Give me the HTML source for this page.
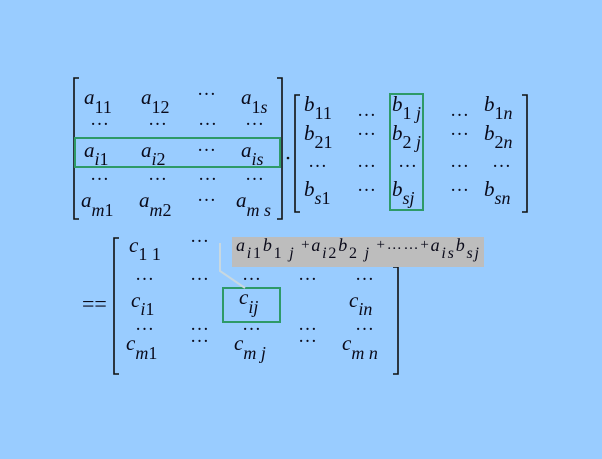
<!DOCTYPE html>
<html><head><meta charset="utf-8"><style>
html,body{margin:0;padding:0;width:602px;height:459px;overflow:hidden;background:#99ccff}
svg{display:block}
text{font-family:"Liberation Serif",serif;fill:#0a0a1a}
.v{font-style:italic;font-size:21px}
.s{font-size:18px}
.n{font-style:normal;font-size:19px}
</style></head><body>
<svg width="602" height="459" viewBox="0 0 602 459">
<rect width="602" height="459" fill="#99ccff"/>
<g fill="none" stroke="#111" stroke-width="1.6">
<path d="M79,78 H74 V219 H79"/>
<path d="M277,78 H282 V219 H277"/>
<path d="M300,95 H295 V212 H300"/>
<path d="M522,95 H527 V212 H522"/>
<path d="M119,238 H114 V374 H119"/>
<path d="M393,267 H398 V374 H393"/>
</g>
<g fill="none" stroke="#2e9a68" stroke-width="2">
<rect x="75" y="138" width="205" height="29"/>
<rect x="390" y="94" width="33" height="116"/>
<rect x="223" y="288" width="57" height="34"/>
</g>
<polyline points="220,243 220,271 245,288" fill="none" stroke="#c8d8e0" stroke-width="2"/>
<rect x="232" y="237" width="252" height="30" fill="#bdbdbd"/>
<circle cx="288" cy="158" r="1.3" fill="#111"/>
<g class="v">
<!-- A -->
<text x="84" y="104">a<tspan class="s" dy="9" style="font-style:normal">11</tspan></text>
<text x="141" y="104">a<tspan class="s" dy="9" style="font-style:normal">12</tspan></text>
<text class="n" x="197" y="95">…</text>
<text x="241" y="104">a<tspan class="s" dy="9" style="font-style:normal">1</tspan><tspan class="s">s</tspan></text>
<text class="n" x="90" y="125">…</text><text class="n" x="148" y="125">…</text><text class="n" x="198" y="125">…</text><text class="n" x="245" y="125">…</text>
<text x="84" y="157">a<tspan class="s" dy="8">i</tspan><tspan class="s" style="font-style:normal">1</tspan></text>
<text x="141" y="157">a<tspan class="s" dy="8">i</tspan><tspan class="s" style="font-style:normal">2</tspan></text>
<text class="n" x="197" y="151">…</text>
<text x="241" y="157">a<tspan class="s" dy="8">is</tspan></text>
<text class="n" x="90" y="180">…</text><text class="n" x="148" y="180">…</text><text class="n" x="198" y="180">…</text><text class="n" x="245" y="180">…</text>
<text x="81" y="207">a<tspan class="s" dy="9">m</tspan><tspan class="s" style="font-style:normal">1</tspan></text>
<text x="139" y="207">a<tspan class="s" dy="9">m</tspan><tspan class="s" style="font-style:normal">2</tspan></text>
<text class="n" x="197" y="201">…</text>
<text x="236" y="207">a<tspan class="s" dy="9">m s</tspan></text>
<!-- B -->
<text x="304" y="111">b<tspan class="s" dy="8" style="font-style:normal">11</tspan></text>
<text class="n" x="357" y="116">…</text>
<text x="392" y="111">b<tspan class="s" dy="8" style="font-style:normal">1</tspan><tspan class="s"> j</tspan></text>
<text class="n" x="450" y="116">…</text>
<text x="484" y="111">b<tspan class="s" dy="8" style="font-style:normal">1</tspan><tspan class="s">n</tspan></text>
<text x="304" y="140">b<tspan class="s" dy="8" style="font-style:normal">21</tspan></text>
<text class="n" x="357" y="135">…</text>
<text x="392" y="140">b<tspan class="s" dy="8" style="font-style:normal">2</tspan><tspan class="s"> j</tspan></text>
<text class="n" x="450" y="135">…</text>
<text x="484" y="140">b<tspan class="s" dy="8" style="font-style:normal">2</tspan><tspan class="s">n</tspan></text>
<text class="n" x="308" y="167">…</text><text class="n" x="357" y="167">…</text><text class="n" x="398" y="167">…</text><text class="n" x="450" y="167">…</text><text class="n" x="492" y="167">…</text>
<text x="304" y="196">b<tspan class="s" dy="8">s</tspan><tspan class="s" style="font-style:normal">1</tspan></text>
<text class="n" x="357" y="191">…</text>
<text x="392" y="196">b<tspan class="s" dy="8">sj</tspan></text>
<text class="n" x="450" y="191">…</text>
<text x="484" y="196">b<tspan class="s" dy="8">sn</tspan></text>
<!-- C -->
<text x="129" y="252">c<tspan class="s" dy="8" style="font-style:normal">1 1</tspan></text>
<text class="n" x="190" y="242">…</text>
<text class="n" x="135" y="280">…</text><text class="n" x="190" y="280">…</text><text class="n" x="242" y="280">…</text><text class="n" x="298" y="280">…</text><text class="n" x="355" y="280">…</text>
<text x="131" y="307">c<tspan class="s" dy="8">i</tspan><tspan class="s" style="font-style:normal">1</tspan></text>
<text x="239" y="304">c<tspan class="s" dy="9">ij</tspan></text>
<text x="349" y="307">c<tspan class="s" dy="8">in</tspan></text>
<text class="n" x="135" y="330">…</text><text class="n" x="190" y="330">…</text><text class="n" x="242" y="330">…</text><text class="n" x="298" y="330">…</text><text class="n" x="355" y="330">…</text>
<text x="126" y="350">c<tspan class="s" dy="9">m</tspan><tspan class="s" style="font-style:normal">1</tspan></text>
<text class="n" x="190" y="342">…</text>
<text x="234" y="350">c<tspan class="s" dy="9">m j</tspan></text>
<text class="n" x="298" y="342">…</text>
<text x="342" y="350">c<tspan class="s" dy="9">m n</tspan></text>
</g>
<text x="82" y="311" style="font-size:22px">==</text>
<text x="236" y="251" textLength="243" lengthAdjust="spacing" style="font-size:18px;font-style:italic">a<tspan dy="7" font-size="16">i</tspan><tspan font-size="16" font-style="normal">1</tspan><tspan dy="-7">b</tspan><tspan dy="7" font-size="16" font-style="normal">1</tspan><tspan font-size="16"> j</tspan><tspan dy="-9" font-size="15" font-style="normal"> +</tspan><tspan dy="2">a</tspan><tspan dy="7" font-size="16">i</tspan><tspan font-size="16" font-style="normal">2</tspan><tspan dy="-7">b</tspan><tspan dy="7" font-size="16" font-style="normal">2</tspan><tspan font-size="16"> j</tspan><tspan dy="-9" font-size="15" font-style="normal"> +……+</tspan><tspan dy="2">a</tspan><tspan dy="7" font-size="16">is</tspan><tspan dy="-7">b</tspan><tspan dy="7" font-size="16">sj</tspan></text>
</svg>
</body></html>
